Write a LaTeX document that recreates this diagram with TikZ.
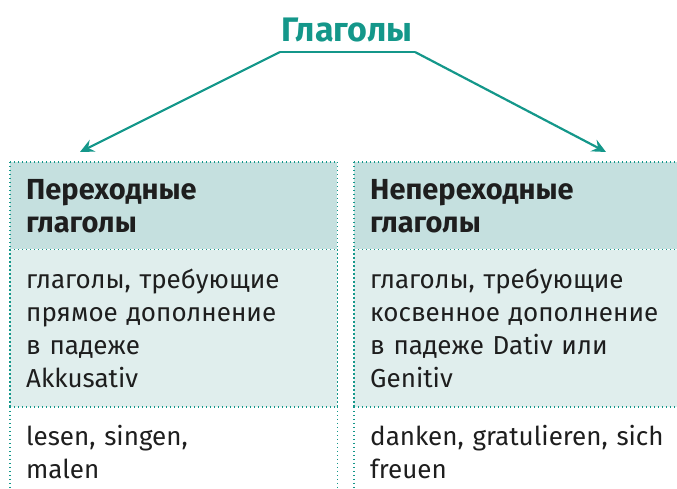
\documentclass[tikz,border=0pt]{standalone}
\usepackage{fontspec}
\setmainfont{Fira Sans}
\usetikzlibrary{positioning,arrows.meta}
\definecolor{teal}{HTML}{14978A}
\definecolor{headfill}{HTML}{C5E0DF}
\definecolor{bodyfill}{HTML}{E0EEED}
\definecolor{ink}{HTML}{1E1E1E}
\tikzset{
  cell/.style={anchor=north west,minimum width=#1,text width=#1-32pt,
    inner xsep=16pt,inner ysep=0pt,align=left,text=ink,font=\fontsize{26}{33}\selectfont},
  head/.style={fill=headfill,minimum height=87pt,font=\fontsize{29}{33}\selectfont\bfseries},
  body/.style={fill=bodyfill,minimum height=157pt},
  foot/.style={fill=white,minimum height=90pt},
  sep/.style={teal,line width=1.4pt,dash pattern=on 1.4pt off 2.6pt},
  pointer/.style={teal,line width=2.2pt,-{Stealth[length=14pt,width=13pt,inset=5pt]}}
}
\begin{document}
\begin{tikzpicture}[x=1pt,y=-1pt]
\useasboundingbox (0,0) rectangle (677,489);
\node[font=\fontsize{34}{34}\selectfont\bfseries,text=teal] (title) at (347,30) {Глаголы};
\coordinate (bl) at (280,52);
\coordinate (br) at (415,52);
\draw[teal,line width=2.2pt] (bl) -- (br);
\coordinate (tl) at (80,152);
\coordinate (tr) at (606,152);
\draw[pointer] (bl) -- (tl);
\draw[pointer] (br) -- (tr);
% left column
\node[cell=327pt,head] (lh) at (10,162) {Переходные\\глаголы};
\node[cell=327pt,body,below=0pt of lh.south west,anchor=north west] (lb) {глаголы, требующие\\прямое дополнение\\в падеже\\Akkusativ};
\node[cell=327pt,foot,below=0pt of lb.south west,anchor=north west] (lf) {lesen, singen,\\malen};
% right column
\node[cell=330pt,head] (rh) at (354,162) {Непереходные\\глаголы};
\node[cell=330pt,body,below=0pt of rh.south west,anchor=north west] (rb) {глаголы, требующие\\косвенное дополнение\\в падеже Dativ или\\Genitiv};
\node[cell=330pt,foot,below=0pt of rb.south west,anchor=north west] (rf) {danken, gratulieren, sich\\freuen};
% dotted rules
\foreach \c in {lh,lb,lf} {
  \draw[sep] (\c.north west) -- (\c.north east);
  \draw[sep] (\c.north west) -- (\c.south west);
  \draw[sep] (\c.north east) -- (\c.south east);
}
\foreach \c in {rh,rb,rf} {
  \draw[sep] (\c.north west) -- (\c.north east);
  \draw[sep] (\c.north west) -- (\c.south west);
}
\end{tikzpicture}
\end{document}
